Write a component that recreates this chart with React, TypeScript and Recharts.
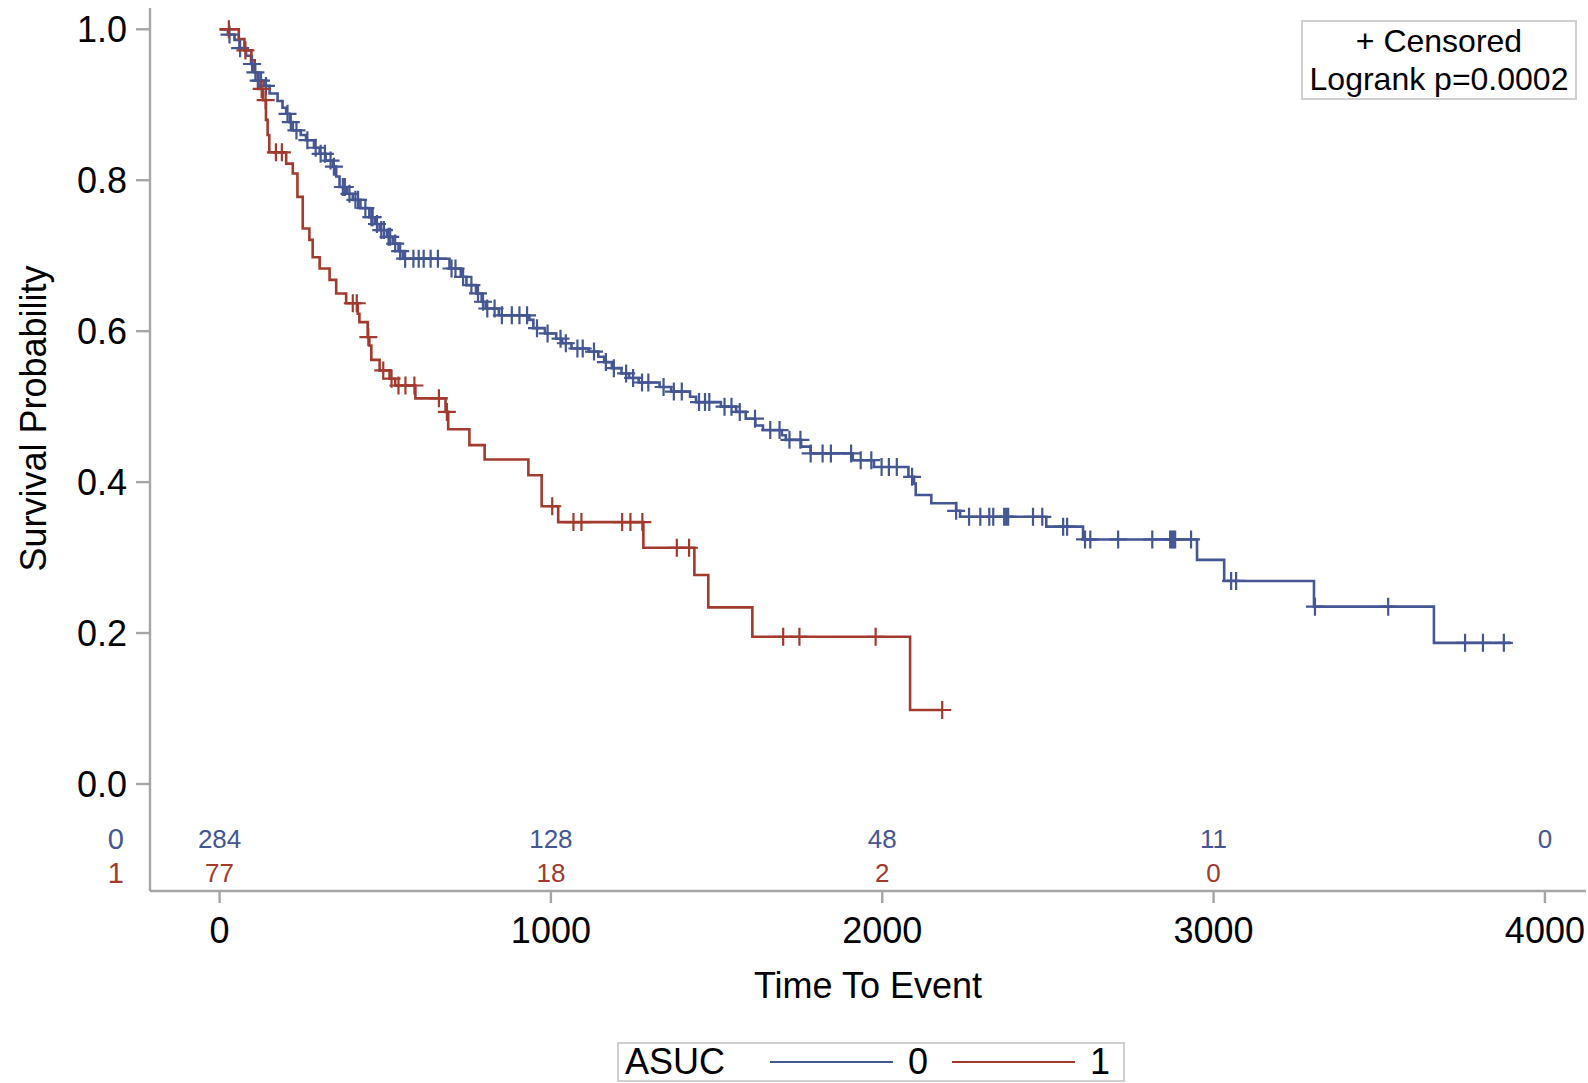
import React from 'react';
import {
  ComposedChart, Line, Scatter, XAxis, YAxis, Legend,
} from 'recharts';

const FONT = '"Liberation Sans", Arial, Helvetica, sans-serif';
const AXIS = '#a6a6a6';
const BLUE = '#445694';
const RED = '#a23a2e';

// Kaplan-Meier estimate, ASUC = 0
const blueTimes = [0, 25, 45, 60, 80, 95, 105, 115, 135, 151, 175, 190, 201, 212, 221, 245, 261, 285, 302, 320, 342, 352, 362, 385, 402, 425, 452, 470, 483, 505, 523, 540, 553, 694, 728, 745, 774, 791, 803, 843, 935, 947, 982, 1016, 1034, 1062, 1114, 1143, 1161, 1184, 1213, 1236, 1265, 1328, 1363, 1420, 1438, 1513, 1559, 1588, 1617, 1640, 1697, 1709, 1755, 1784, 1911, 1975, 2079, 2096, 2101, 2148, 2223, 2235, 2495, 2606, 2950, 3032, 3303, 3665, 3897];
const blueSurv = [1.0, 0.993, 0.986, 0.975, 0.965, 0.954, 0.943, 0.932, 0.925, 0.915, 0.905, 0.896, 0.888, 0.877, 0.866, 0.86, 0.853, 0.843, 0.835, 0.826, 0.818, 0.805, 0.791, 0.782, 0.774, 0.763, 0.751, 0.742, 0.734, 0.725, 0.716, 0.706, 0.696, 0.683, 0.672, 0.661, 0.65, 0.639, 0.63, 0.621, 0.615, 0.604, 0.597, 0.59, 0.584, 0.577, 0.573, 0.566, 0.559, 0.551, 0.544, 0.538, 0.532, 0.526, 0.52, 0.513, 0.506, 0.5, 0.493, 0.484, 0.475, 0.469, 0.462, 0.456, 0.447, 0.438, 0.429, 0.42, 0.407, 0.398, 0.383, 0.372, 0.362, 0.354, 0.341, 0.324, 0.297, 0.269, 0.235, 0.187, 0.187];
const blueCensored = [30, 62, 98, 108, 118, 125, 140, 205, 215, 232, 265, 290, 305, 318, 335, 345, 372, 378, 392, 410, 418, 440, 458, 462, 475, 488, 496, 510, 515, 530, 545, 560, 585, 601, 616, 637, 659, 700, 712, 735, 760, 780, 795, 808, 830, 852, 882, 905, 928, 958, 990, 1029, 1045, 1080, 1096, 1130, 1166, 1190, 1227, 1248, 1275, 1294, 1340, 1371, 1395, 1447, 1465, 1478, 1524, 1545, 1570, 1616, 1662, 1690, 1720, 1753, 1784, 1820, 1845, 1906, 1935, 1967, 1998, 2020, 2044, 2090, 2223, 2262, 2296, 2323, 2335, 2368, 2374, 2380, 2455, 2483, 2546, 2558, 2612, 2628, 2712, 2815, 2869, 2874, 2879, 2884, 2932, 3053, 3068, 3306, 3527, 3759, 3813, 3876];

// Kaplan-Meier estimate, ASUC = 1
const redTimes = [0, 58, 75, 96, 106, 116, 131, 140, 145, 150, 201, 221, 235, 251, 271, 281, 302, 332, 352, 382, 417, 422, 447, 452, 458, 483, 513, 530, 591, 682, 690, 754, 800, 932, 972, 1022, 1279, 1433, 1475, 1608, 2084, 2181];
const redSurv = [1.0, 0.987, 0.972, 0.959, 0.943, 0.921, 0.906, 0.88, 0.86, 0.837, 0.822, 0.809, 0.778, 0.736, 0.721, 0.698, 0.683, 0.668, 0.65, 0.637, 0.623, 0.612, 0.592, 0.581, 0.562, 0.548, 0.537, 0.528, 0.511, 0.493, 0.47, 0.449, 0.43, 0.409, 0.368, 0.347, 0.313, 0.277, 0.234, 0.195, 0.098, 0.098];
const redCensored = [28, 78, 127, 139, 170, 188, 402, 414, 449, 494, 519, 540, 561, 588, 662, 686, 1004, 1068, 1092, 1215, 1240, 1276, 1380, 1417, 1701, 1750, 1980, 2181];

// number at risk
const riskTimes = [0, 1000, 2000, 3000, 4000];
const riskBlue = [284, 128, 48, 11, 0];
const riskRed = [77, 18, 2, 0];

const xTicks = [0, 1000, 2000, 3000, 4000];
const yTicks = [0, 0.2, 0.4, 0.6, 0.8, 1.0];

// rows of the at-risk table sit below 0 on the survival axis
const ROW_BLUE = -0.072;
const ROW_RED = -0.117;
const riskRows = [
  { pos: ROW_BLUE, label: '0', color: BLUE },
  { pos: ROW_RED, label: '1', color: RED },
];

const steps = (times: number[], surv: number[]) => times.map((t, i) => ({ t, s: surv[i] }));

const survAt = (times: number[], surv: number[], t: number) => {
  let s = surv[0];
  times.forEach((ti, i) => { if (ti <= t) s = surv[i]; });
  return s;
};

const blueCurve = steps(blueTimes, blueSurv);
const redCurve = steps(redTimes, redSurv);
const blueMarks = blueCensored.map((t) => ({ t, s: survAt(blueTimes, blueSurv, t) }));
const redMarks = redCensored.map((t) => ({ t, s: survAt(redTimes, redSurv, t) }));
const blueRisk = riskBlue.map((n, i) => ({ t: riskTimes[i], s: ROW_BLUE, n }));
const redRisk = riskRed.map((n, i) => ({ t: riskTimes[i], s: ROW_RED, n }));

const Plus = (props: any) => {
  const { cx, cy, fill } = props;
  return <path d={`M${cx - 9},${cy}h18M${cx},${cy - 9}v18`} stroke={fill} strokeWidth={2.2} fill="none" />;
};

const RiskCount = (props: any) => {
  const { cx, cy, fill, payload } = props;
  return (
    <text x={cx} y={cy} dy="0.36em" textAnchor="middle" fill={fill} fontSize={26}>
      {payload.n}
    </text>
  );
};

const TICK_LEN = 14;
const TICK_GAP = 9;

const SurvTick = (props: any) => {
  const { x, y, payload } = props;
  const row = riskRows.find((r) => r.pos === payload.value);
  if (row) {
    return (
      <text x={x - 3} y={y} dy="0.36em" textAnchor="end" fill={row.color} fontSize={29}>
        {row.label}
      </text>
    );
  }
  return (
    <g>
      <line x1={x + TICK_GAP} x2={x + TICK_GAP + TICK_LEN} y1={y} y2={y} stroke={AXIS} strokeWidth={2.4} />
      <text x={x} y={y} dy="0.36em" textAnchor="end" fill="#000" fontSize={36}>
        {payload.value.toFixed(1)}
      </text>
    </g>
  );
};

const YTitle = (props: any) => {
  const { viewBox } = props;
  const cx = viewBox.x + 25;
  const cy = viewBox.y + viewBox.height / 2 - 31;
  return (
    <text x={cx} y={cy} transform={`rotate(-90 ${cx} ${cy})`} textAnchor="middle"
      dominantBaseline="central" fontSize={36} fill="#000">
      Survival Probability
    </text>
  );
};

const KmLegend = (props: any) => {
  const items = (props.payload || []).filter((p: any) => p.type !== 'none');
  return (
    <div style={{
      display: 'flex', alignItems: 'center', height: 36, lineHeight: '36px',
      border: '2px solid #d0d0d0', padding: '0 13px 0 6px', fontSize: 36,
      fontFamily: FONT, color: '#000', background: '#fff', whiteSpace: 'nowrap',
    }}>
      <span>ASUC</span>
      {items.map((p: any, i: number) => (
        <React.Fragment key={p.value}>
          <span style={{
            display: 'inline-block', width: 123, borderTop: `2.5px solid ${p.color}`,
            marginLeft: i === 0 ? 45 : 24, marginRight: 15,
          }} />
          <span>{p.value}</span>
        </React.Fragment>
      ))}
    </div>
  );
};

export default function App() {
  return (
    <div style={{ position: 'relative', width: 1588, height: 1083, background: '#fff', fontFamily: FONT }}>
      <style>{'body{margin:0}'}</style>
      <ComposedChart width={1588} height={1083} margin={{ top: 8, right: 2, bottom: 0, left: 8 }}>
        <XAxis
          dataKey="t"
          type="number"
          domain={[-210, 4124]}
          allowDataOverflow
          ticks={xTicks}
          interval={0}
          height={152}
          tickSize={12}
          tickMargin={14}
          axisLine={{ stroke: AXIS, strokeWidth: 2.4 }}
          tickLine={{ stroke: AXIS, strokeWidth: 2.4 }}
          tick={{ fill: '#000', fontSize: 36 }}
          label={{ value: 'Time To Event', position: 'insideTop', offset: 81, fontSize: 36, fill: '#000' }}
        />
        <XAxis xAxisId="frame" orientation="top" type="number" domain={[-210, 4124]} height={0}
          tick={false} tickLine={false} axisLine={{ stroke: AXIS, strokeWidth: 2.4 }} />
        <YAxis
          dataKey="s"
          type="number"
          domain={[-0.1418, 1.0282]}
          allowDataOverflow
          ticks={[ROW_RED, ROW_BLUE, ...yTicks]}
          interval={0}
          width={142}
          tickSize={TICK_LEN}
          tickMargin={TICK_GAP}
          axisLine={{ stroke: AXIS, strokeWidth: 2.4 }}
          tickLine={false}
          tick={<SurvTick />}
          label={<YTitle />}
        />
        <YAxis yAxisId="frame" orientation="right" type="number" domain={[0, 1]} width={0}
          tick={false} tickLine={false} axisLine={{ stroke: AXIS, strokeWidth: 2.4 }} />
        <Legend
          verticalAlign="bottom"
          align="left"
          content={<KmLegend />}
          wrapperStyle={{ left: 617, top: 1042, bottom: 'auto', width: 'auto' }}
        />
        <Line data={blueCurve} dataKey="s" name="0" type="stepAfter" stroke={BLUE} strokeWidth={2.6}
          dot={false} isAnimationActive={false} />
        <Line data={redCurve} dataKey="s" name="1" type="stepAfter" stroke={RED} strokeWidth={2.6}
          dot={false} isAnimationActive={false} />
        <Scatter data={blueMarks} dataKey="s" fill={BLUE} shape={<Plus />} legendType="none" isAnimationActive={false} />
        <Scatter data={redMarks} dataKey="s" fill={RED} shape={<Plus />} legendType="none" isAnimationActive={false} />
        <Scatter data={blueRisk} dataKey="s" fill={BLUE} shape={<RiskCount />} legendType="none" isAnimationActive={false} />
        <Scatter data={redRisk} dataKey="s" fill={RED} shape={<RiskCount />} legendType="none" isAnimationActive={false} />
      </ComposedChart>
      <div style={{
        position: 'absolute', left: 1301, top: 20, width: 272, height: 76,
        border: '2px solid #d0d0d0', background: '#fff', textAlign: 'center',
        fontSize: 32, lineHeight: '38px', color: '#000',
      }}>
        <div>+ Censored</div>
        <div>Logrank p=0.0002</div>
      </div>
    </div>
  );
}
